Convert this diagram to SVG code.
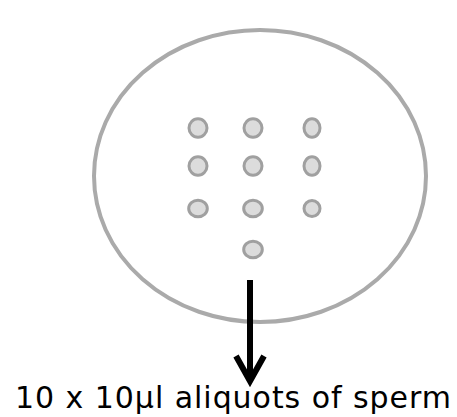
<svg xmlns="http://www.w3.org/2000/svg" width="457" height="417" viewBox="0 0 457 417">
<style>
.dish{fill:#fff;stroke:#aaaaaa;stroke-width:4}
.drop{fill:#dcdcdc;stroke:#a0a0a0;stroke-width:3}
.arrow{fill:none;stroke:#000;stroke-width:6}
.label{font-family:"DejaVu Sans",Verdana,sans-serif;font-size:30px;fill:#000}
</style>
<g id="dish"><ellipse class="dish" cx="260" cy="176" rx="166" ry="146"/></g>
<g id="drops">
<ellipse class="drop" cx="198" cy="128" rx="9" ry="9.3"/>
<ellipse class="drop" cx="253" cy="128" rx="9" ry="9.3"/>
<ellipse class="drop" cx="312" cy="128" rx="8" ry="9.3"/>
<ellipse class="drop" cx="198" cy="166" rx="9" ry="9.3"/>
<ellipse class="drop" cx="253" cy="166" rx="9" ry="9.3"/>
<ellipse class="drop" cx="312" cy="166" rx="8" ry="9.3"/>
<ellipse class="drop" cx="198" cy="208.5" rx="9.3" ry="8.2"/>
<ellipse class="drop" cx="253" cy="208.5" rx="9.3" ry="8.2"/>
<ellipse class="drop" cx="312" cy="208.5" rx="8" ry="8"/>
<ellipse class="drop" cx="253" cy="249.5" rx="9.3" ry="8.2"/>
</g>
<g id="connectors">
<line class="arrow" x1="250" y1="280" x2="250" y2="381"/>
<polyline class="arrow" points="236,356 250,381 264,356" stroke-linejoin="miter"/>
</g>
<g id="label"><text class="label" x="15" y="408" textLength="436" lengthAdjust="spacing">10 x 10µl aliquots of sperm</text></g>
</svg>
